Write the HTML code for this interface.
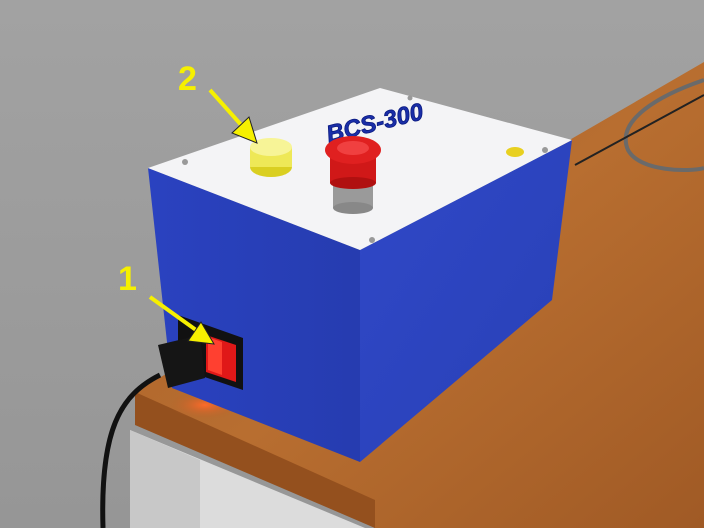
<!DOCTYPE html>
<html><head><meta charset="utf-8"><style>
html,body{margin:0;padding:0;background:#a0a0a0;}
svg{display:block;}
text{font-family:"Liberation Sans",sans-serif;}
</style></head><body>
<svg width="704" height="528" viewBox="0 0 704 528" xmlns="http://www.w3.org/2000/svg">
<defs>
<linearGradient id="wood" x1="0" y1="0" x2="1" y2="1">
<stop offset="0" stop-color="#a8602a"/><stop offset="0.5" stop-color="#b86e30"/><stop offset="1" stop-color="#a05a25"/></linearGradient>
<linearGradient id="bg" x1="0" y1="0" x2="0" y2="1">
<stop offset="0" stop-color="#a2a2a2"/><stop offset="1" stop-color="#969696"/></linearGradient>
<linearGradient id="front" x1="0" y1="0" x2="1" y2="0">
<stop offset="0" stop-color="#2a42c0"/><stop offset="1" stop-color="#263cb0"/></linearGradient>
<linearGradient id="right" x1="0" y1="0" x2="1" y2="1">
<stop offset="0" stop-color="#3048c8"/><stop offset="1" stop-color="#2840b5"/></linearGradient>
<radialGradient id="glow" cx="0.5" cy="0.5" r="0.5">
<stop offset="0" stop-color="#ff6a2a"/><stop offset="1" stop-color="#b8602a" stop-opacity="0"/></radialGradient>
</defs>
<rect width="704" height="528" fill="url(#bg)"/>
<g>
<polygon points="130,430 365,528 130,528" fill="#dcdcdc"/>
<polygon points="130,430 200,460 200,528 130,528" fill="#c8c8c8"/>
<polygon points="135,392 704,62 704,528 375,528 135,420" fill="url(#wood)"/>
<polygon points="135,392 375,500 375,528 135,425" fill="#94501e"/>
<ellipse cx="205" cy="405" rx="35" ry="14" fill="url(#glow)"/>
</g>
<path d="M704,80 C660,95 615,120 628,150 C640,172 690,172 704,168" fill="none" stroke="#6a6a6a" stroke-width="4"/>
<path d="M704,95 L575,165" stroke="#222" stroke-width="2" fill="none"/>
<g>
<polygon points="148,168 360,250 360,462 172,388" fill="url(#front)"/>
<polygon points="360,250 572,140 552,300 360,462" fill="url(#right)"/>
<polygon points="148,168 380,88 572,140 360,250" fill="#f4f4f6"/>
<circle cx="185" cy="162" r="3" fill="#999"/><circle cx="372" cy="240" r="3" fill="#999"/>
<circle cx="545" cy="150" r="3" fill="#999"/><circle cx="410" cy="98" r="2.5" fill="#999"/>
<text x="325" y="132" font-size="24" font-weight="bold" fill="#1a2ea8" stroke="#0a1a80" stroke-width="0.8" transform="rotate(-14 370 122)" font-style="italic">BCS-300</text>
<ellipse cx="515" cy="152" rx="9" ry="5" fill="#e8d020"/>
</g>
<g opacity="0.92">
<ellipse cx="271" cy="167" rx="21" ry="10" fill="#d8cc10"/>
<rect x="250" y="147" width="42" height="20" fill="#eee84a"/>
<ellipse cx="271" cy="147" rx="21" ry="9" fill="#f8f490"/>
</g>
<g>
<rect x="333" y="175" width="40" height="33" fill="#9a9a9a"/>
<ellipse cx="353" cy="208" rx="20" ry="6" fill="#888"/>
<rect x="330" y="155" width="46" height="28" fill="#d01818"/>
<ellipse cx="353" cy="183" rx="23" ry="6" fill="#b01010"/>
<ellipse cx="353" cy="150" rx="28" ry="14" fill="#e02020"/>
<ellipse cx="353" cy="148" rx="16" ry="7" fill="#f04040"/>
</g>
<g>
<polygon points="178,315 243,338 243,390 178,368" fill="#111"/>
<polygon points="206,335 236,345 236,382 206,372" fill="#e01818"/>
<polygon points="208,337 222,342 222,375 208,370" fill="#ff4030"/>
</g>
<g>
<path d="M160,375 C120,395 100,430 103,528" fill="none" stroke="#111" stroke-width="5"/>
<polygon points="158,345 200,335 205,378 168,388" fill="#151515"/>
</g>
<g>
<text x="178" y="90" font-size="34" font-weight="bold" fill="#f6f000">2</text>
<line x1="210" y1="90" x2="243" y2="127" stroke="#f6f000" stroke-width="4"/>
<polygon points="257,143 232,133 249,117" fill="#f6f000" stroke="#222" stroke-width="1"/>
<text x="118" y="290" font-size="34" font-weight="bold" fill="#f6f000">1</text>
<line x1="150" y1="297" x2="196" y2="330" stroke="#f6f000" stroke-width="4"/>
<polygon points="214,344 188,341 201,322" fill="#f6f000" stroke="#222" stroke-width="1"/>
</g>
</svg>
</body></html>
